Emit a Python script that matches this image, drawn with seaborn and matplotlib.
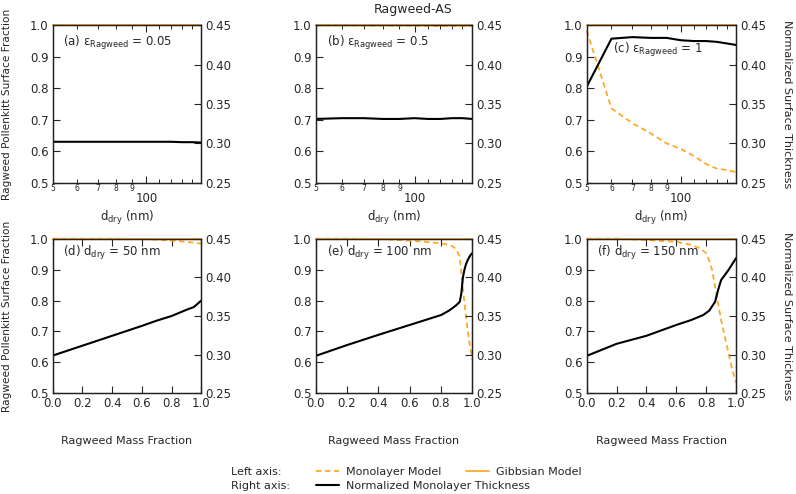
import pandas as pd
import seaborn as sns
import matplotlib.pyplot as plt
from matplotlib.ticker import FixedLocator, FixedFormatter, MultipleLocator, FormatStrFormatter

sns.set_style("ticks", {"xtick.direction": "in", "ytick.direction": "in"})
plt.rcParams['font.family'] = ['DejaVu Sans']
plt.rcParams['mathtext.fontset'] = 'dejavusans'

ORANGE = '#FFA928'

# ---------------- top row: d_dry sweep ----------------
d_dry = [50, 60, 70, 80, 90, 100, 110, 120, 130, 140, 150]

mono_a = [1.0, 1.0, 1.0, 1.0, 1.0, 1.0, 1.0, 1.0, 1.0, 1.0, 1.0]
thick_a = [0.302, 0.302, 0.302, 0.302, 0.302, 0.302, 0.302, 0.302, 0.3015, 0.3015, 0.301]

mono_b = [1.0, 1.0, 0.999, 0.999, 0.999, 0.999, 0.998, 0.998, 0.998, 0.998, 0.998]
thick_b = [0.331, 0.332, 0.332, 0.331, 0.331, 0.332, 0.331, 0.331, 0.332, 0.332, 0.331]

mono_c = [0.983, 0.736, 0.689, 0.657, 0.625, 0.607, 0.585, 0.56, 0.545, 0.54, 0.534]
thick_c = [0.372, 0.433, 0.435, 0.434, 0.434, 0.431, 0.430, 0.430, 0.429, 0.427, 0.425]

# ---------------- bottom row: mass fraction sweep ----------------
mf_d = [0.0, 0.2, 0.4, 0.6, 0.7, 0.8, 0.85, 0.9, 0.95, 1.0]
mono_d = [1.0, 1.0, 1.0, 0.999, 0.997, 0.994, 0.992, 0.990, 0.987, 0.984]
thick_d = [0.2988, 0.3116, 0.3244, 0.3372, 0.344, 0.35, 0.354, 0.358, 0.3616, 0.37]

mf_e = [0.0, 0.2, 0.4, 0.6, 0.7, 0.8, 0.85, 0.88, 0.9, 0.92, 0.93, 0.94, 0.95, 0.96, 0.97, 0.98, 0.99, 1.0]
mono_e = [1.0, 1.0, 0.999, 0.994, 0.99, 0.985, 0.98, 0.974, 0.963, 0.942, 0.888, 0.84, 0.791, 0.748, 0.705,
          0.67, 0.64, 0.608]
thick_e = [0.2984, 0.3124, 0.3256, 0.3384, 0.3448, 0.3512, 0.3568, 0.3612, 0.3644, 0.3684, 0.3792, 0.40, 0.41,
           0.4172, 0.422, 0.426, 0.4292, 0.4312]

mf_f_thick = [0.0, 0.2, 0.4, 0.6, 0.7, 0.78, 0.82, 0.86, 0.88, 0.9, 0.95, 1.0]
thick_f = [0.2984, 0.314, 0.3244, 0.3384, 0.3448, 0.3512, 0.3568, 0.3684, 0.3836, 0.3964, 0.4096, 0.4248]
mf_f_mono = [0.0, 0.2, 0.4, 0.6, 0.7, 0.76, 0.8, 0.82, 0.84, 0.86, 0.88, 0.9, 0.94, 0.97, 1.0]
mono_f = [1.0, 1.0, 0.996, 0.99, 0.98, 0.969, 0.953, 0.931, 0.899, 0.845, 0.791, 0.737, 0.651, 0.586, 0.534]

panel_labels = ['(a) ε$_{\\mathrm{Ragweed}}$ = 0.05', '(b) ε$_{\\mathrm{Ragweed}}$ = 0.5',
                '(c) ε$_{\\mathrm{Ragweed}}$ = 1', '(d) d$_{\\mathrm{dry}}$ = 50 nm',
                '(e) d$_{\\mathrm{dry}}$ = 100 nm', '(f) d$_{\\mathrm{dry}}$ = 150 nm']

W, H = 796, 494
fig = plt.figure(figsize=(W / 100, H / 100), dpi=100)

cols = [(52.7, 148.6), (315.7, 156.6), (586.7, 149.3)]
rows = [(25.3, 182.7), (238.7, 393.3)]


def make_axes(col, row):
    x0, w = cols[col]
    y0, y1 = rows[row]
    return fig.add_axes([x0 / W, 1 - y1 / H, w / W, (y1 - y0) / H])


def style_axes(ax, ax2):
    ax.set_ylim(0.5, 1.0)
    ax.yaxis.set_major_locator(MultipleLocator(0.1))
    ax.yaxis.set_major_formatter(FormatStrFormatter('%.1f'))
    ax2.set_ylim(0.25, 0.45)
    ax2.yaxis.set_major_locator(MultipleLocator(0.05))
    ax2.yaxis.set_major_formatter(FormatStrFormatter('%.2f'))
    ax.tick_params(axis='y', labelsize=8.5, length=5, width=0.8, pad=3, direction='in')
    ax2.tick_params(axis='y', labelsize=8.5, length=5, width=0.8, pad=3, direction='in')
    ax.tick_params(axis='x', top=True, direction='in')
    ax.tick_params(axis='x', which='minor', top=True, direction='in')
    for a in (ax, ax2):
        for s in a.spines.values():
            s.set_visible(True)
            s.set_linewidth(0.9)
            s.set_color('#222222')
    ax.set_xlabel('')
    ax.set_ylabel('')
    ax2.set_xlabel('')
    ax2.set_ylabel('')
    if ax.get_legend():
        ax.get_legend().remove()
    if ax2.get_legend():
        ax2.get_legend().remove()


def draw_panel(ax, x_mono, mono, x_thick, thick, xlim):
    ax2 = ax.twinx()
    sns.lineplot(x=[xlim[0], xlim[1]], y=[1.0, 1.0], ax=ax, color=ORANGE, lw=1.3, clip_on=False,
                 label='Gibbsian Model')
    sns.lineplot(x=x_mono, y=mono, ax=ax, color=ORANGE, lw=1.3, dashes=(3, 2), clip_on=False,
                 label='Monolayer Model')
    sns.lineplot(x=x_thick, y=thick, ax=ax2, color='black', lw=1.5,
                 label='Normalized Monolayer Thickness')
    ax.set_xlim(*xlim)
    return ax2


top_data = [(mono_a, thick_a), (mono_b, thick_b), (mono_c, thick_c)]
handles = None
for i, (mono, thick) in enumerate(top_data):
    ax = make_axes(i, 0)
    ax.set_xscale('log')
    ax2 = draw_panel(ax, d_dry, mono, d_dry, thick, (50, 150))
    h1, _ = ax.get_legend_handles_labels()
    h2, _ = ax2.get_legend_handles_labels()
    handles = (h1, h2)
    style_axes(ax, ax2)
    ax.xaxis.set_major_locator(FixedLocator([100]))
    ax.xaxis.set_major_formatter(FixedFormatter(['100']))
    ax.xaxis.set_minor_locator(FixedLocator([50, 60, 70, 80, 90, 110, 120, 130, 140]))
    ax.xaxis.set_minor_formatter(FixedFormatter(['5', '6', '7', '8', '9', '', '', '', '']))
    ax.tick_params(axis='x', which='major', labelsize=8.5, length=5, width=0.8, pad=7)
    ax.tick_params(axis='x', which='minor', labelsize=5.5, length=3, width=0.7, pad=1)
    ax.text(0.07 if i < 2 else 0.175, 0.89 if i < 2 else 0.84, panel_labels[i], transform=ax.transAxes,
            fontsize=8.5, va='center', ha='left')
    x0, w = cols[i]
    fig.text((x0 + w / 2) / W, 1 - 218 / H, r'd$_{\mathrm{dry}}$ (nm)', ha='center', va='center', fontsize=8.5)

bottom_data = [(mf_d, mono_d, mf_d, thick_d), (mf_e, mono_e, mf_e, thick_e),
               (mf_f_mono, mono_f, mf_f_thick, thick_f)]
for i, (xm, mono, xt, thick) in enumerate(bottom_data):
    ax = make_axes(i, 1)
    ax2 = draw_panel(ax, xm, mono, xt, thick, (0.0, 1.0))
    style_axes(ax, ax2)
    ax.xaxis.set_major_locator(MultipleLocator(0.2))
    ax.xaxis.set_major_formatter(FormatStrFormatter('%.1f'))
    ax.tick_params(axis='x', which='major', labelsize=8.5, length=5, width=0.8, pad=3)
    ax.text(0.07, 0.91, panel_labels[i + 3], transform=ax.transAxes, fontsize=8.5, va='center', ha='left')
    x0, w = cols[i]
    fig.text((x0 + w / 2) / W, 1 - 441 / H, 'Ragweed Mass Fraction', ha='center', va='center', fontsize=8)

# axis titles
fig.text(413 / W, 1 - 9 / H, 'Ragweed-AS', ha='center', va='center', fontsize=9)
for yc in (104, 316):
    fig.text(7 / W, 1 - yc / H, 'Ragweed Pollenkitt Surface Fraction', rotation=90, ha='center', va='center',
             fontsize=7.6)
    fig.text(787 / W, 1 - yc / H, 'Normalized Surface Thickness', rotation=270, ha='center', va='center',
             fontsize=8)

# legend
fig.text(231 / W, 1 - 472 / H, 'Left axis:', ha='left', va='center', fontsize=8)
fig.text(231 / W, 1 - 486 / H, 'Right axis:', ha='left', va='center', fontsize=8)
h1, h2 = handles
leg_kw = dict(frameon=False, fontsize=8, handlelength=2.1, handletextpad=0.6, borderpad=0, borderaxespad=0,
              loc='center left')
fig.legend([h1[1], h1[0]], ['Monolayer Model', 'Gibbsian Model'], ncol=2, columnspacing=2.2,
           bbox_to_anchor=(316 / W, 1 - 472 / H), **leg_kw)
fig.legend([h2[0]], ['Normalized Monolayer Thickness'], bbox_to_anchor=(316 / W, 1 - 486 / H), **leg_kw)

plt.savefig('out.png', dpi=100)
